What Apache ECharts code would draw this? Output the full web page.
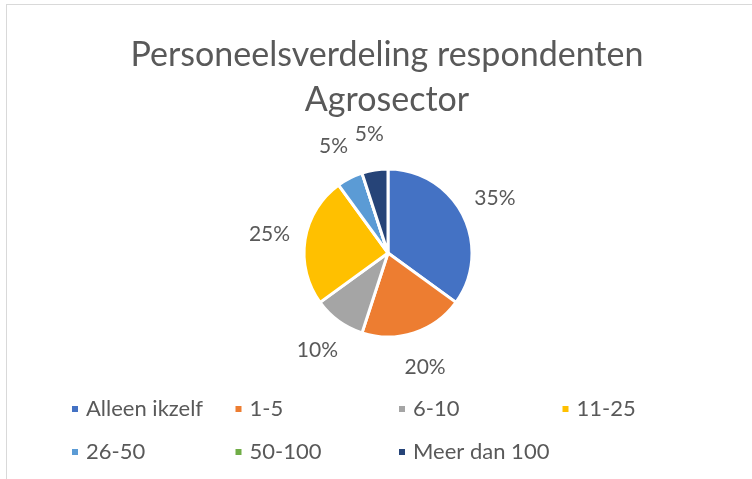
<!DOCTYPE html>
<html lang="nl">
<head>
    <meta charset="UTF-8">
    <title>Personeelsverdeling</title>
    <style>
        html,body{
            height: 100%;
        }
        body{
            margin: 0;
            padding: 0;
            background: #fff;
        }
        #chart_pie{
            position: absolute;
            left: 6px;
            top: 4px;
            width: 760px;
            height: 490px;
            border: 1px solid #d9d9d9;
        }
    </style>
</head>
<body>
    <div id="chart_pie"></div>
<script src="https://cdn.jsdelivr.net/npm/echarts@6/dist/echarts.min.js"></script>
<script>
    var categories = ['Alleen ikzelf', '1-5', '6-10', '11-25', '26-50', '50-100', 'Meer dan 100'];
    var values = [35, 20, 10, 25, 5, 0, 5];
    var colors = ['#4472C4', '#ED7D31', '#A5A5A5', '#FFC000', '#5B9BD5', '#70AD47', '#264478'];

    var font = 'Lato, "Open Sans", sans-serif';
    var textColor = '#595959';

    var myChart = echarts.init(document.getElementById('chart_pie'));

    // one legend per item so they sit in a 4-column grid like the original
    var legends = categories.map(function (name, i) {
        return {
            data: [name],
            left: 58 + (i % 4) * 163.5,
            top: 388 + Math.floor(i / 4) * 43,
            itemWidth: 8,
            itemHeight: 8,
            icon: 'rect',
            itemGap: 0,
            textStyle: { color: textColor, fontSize: 22, fontFamily: font, padding: [0, 0, 0, 2] }
        };
    });

    var pieData = categories.map(function (c, i) { return { name: c, value: values[i] }; });

    myChart.setOption({
        color: colors,
        title: {
            text: 'Personeelsverdeling respondenten\nAgrosector',
            left: 'center',
            top: 23,
            textStyle: {
                color: textColor,
                fontSize: 34,
                fontWeight: 400,
                fontFamily: font,
                lineHeight: 45
            }
        },
        legend: legends,
        series: [{
            type: 'pie',
            center: [381, 248],
            radius: 84,
            startAngle: 90,
            clockwise: true,
            data: pieData,
            itemStyle: { borderColor: '#fff', borderWidth: 3 },
            label: { show: false },
            emphasis: { scale: false }
        }, {
            // transparent ring only used to place the percentage labels outside the pie
            type: 'pie',
            center: [381, 248],
            radius: [84, 150],
            startAngle: 90,
            clockwise: true,
            silent: true,
            data: pieData,
            itemStyle: { color: 'transparent' },
            label: {
                show: true,
                position: 'inside',
                formatter: function (p) { return p.value ? p.value + '%' : ''; },
                color: textColor,
                fontSize: 21,
                fontFamily: font
            },
            labelLine: { show: false }
        }]
    });
</script>
</body>
</html>
